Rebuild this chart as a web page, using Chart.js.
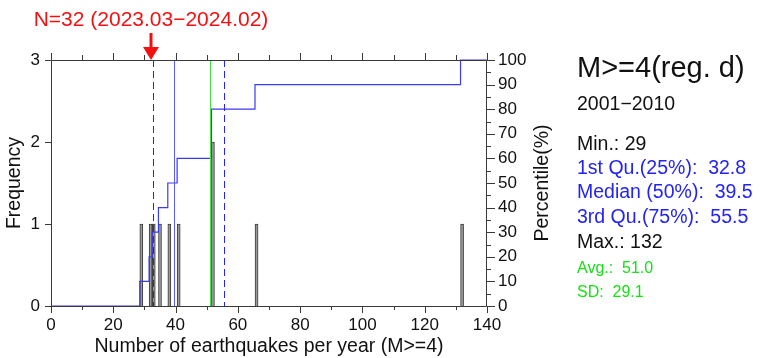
<!DOCTYPE html>
<html>
<head>
<meta charset="utf-8">
<script src="https://cdn.jsdelivr.net/npm/chart.js@4.4.1/dist/chart.umd.min.js"></script>
<style>
  html, body { margin: 0; padding: 0; background: #ffffff; }
  canvas { display: block; }
</style>
</head>
<body>
<canvas id="hist" width="764" height="358"></canvas>
<script>
// Annual counts of M>=4 earthquakes, region d, 2001-2010
const annualCounts = [29, 32, 33, 35, 38, 41, 52, 52, 66, 132];
const periodLabel = '2001\u22122010';
const panelTitle = 'M>=4(reg. d)';

// Current-period count, marked with the red arrow
const currentCount = 32;
const currentLabel = 'N=32 (2023.03\u22122024.02)';

// Summary statistics shown in the side panel and as reference lines
const statMin = 29;
const statQ1 = 32.8;
const statMedian = 39.5;
const statQ3 = 55.5;
const statMax = 132;
const statAvg = 51.0;
const statSD = 29.1;

// Axis tick settings
const xTickLabels = [0, 20, 40, 60, 80, 100, 120, 140];
const freqTicks = [0, 1, 2, 3];
const pctTicks = [0, 10, 20, 30, 40, 50, 60, 70, 80, 90, 100];

// Frequency per integer value
const freqMap = {};
annualCounts.forEach(v => { freqMap[v] = (freqMap[v] || 0) + 1; });
const histPoints = Object.keys(freqMap).map(Number).sort((a, b) => a - b)
  .map(v => ({ x: v, y: freqMap[v] }));

// Empirical cumulative percentage, stepping at the left edge of each bar
const cdfPoints = [{ x: 0, y: 0 }];
let cum = 0;
histPoints.forEach(p => {
  cum += p.y;
  cdfPoints.push({ x: p.x - 0.5, y: cum / annualCounts.length * 100 });
});
cdfPoints.push({ x: 140, y: 100 });

const FONT = "'Liberation Sans', Arial, Helvetica, sans-serif";
const BLUE = '#2323f5';
const GREEN = '#16e016';
const RED = '#f41010';
const AXIS = '#3a3a3a';

const decorations = {
  id: 'decorations',
  afterDatasetsDraw(chart) {
    const ctx = chart.ctx;
    const xs = chart.scales.x, ys = chart.scales.y, y2 = chart.scales.y2;
    const area = chart.chartArea;
    const top = area.top, bottom = area.bottom, left = area.left, right = area.right;

    ctx.save();
    // reference lines
    const vline = (val, color, dash, width) => {
      const px = Math.round(xs.getPixelForValue(val)) + 0.5;
      ctx.beginPath();
      ctx.strokeStyle = color;
      ctx.lineWidth = width;
      ctx.setLineDash(dash);
      ctx.moveTo(px, top);
      ctx.lineTo(px, bottom);
      ctx.stroke();
      ctx.setLineDash([]);
    };
    vline(statQ1, BLUE, [7, 4], 1);
    vline(statQ3, BLUE, [7, 4], 1);
    vline(statMedian, '#5b5bff', [], 1);
    vline(statAvg, '#3ee63e', [], 1);

    // frame
    ctx.strokeStyle = AXIS;
    ctx.lineWidth = 1;
    ctx.beginPath();
    ctx.rect(left + 0.5, top + 0.5, right - left - 1, bottom - top);
    ctx.stroke();

    // x ticks: bottom (down) and top (up)
    ctx.beginPath();
    for (let v = 0; v <= 140; v += 10) {
      const px = Math.round(xs.getPixelForValue(v)) + 0.5;
      const major = v % 20 === 0;
      ctx.moveTo(px, bottom);
      ctx.lineTo(px, bottom + (major ? 7 : 4));
      ctx.moveTo(px, top + 0.5);
      ctx.lineTo(px, top - (major ? 7 : 5));
    }
    // left ticks
    freqTicks.forEach(v => {
      const py = Math.round(ys.getPixelForValue(v)) + 0.5;
      ctx.moveTo(left, py);
      ctx.lineTo(left - 6, py);
    });
    // right ticks
    for (let v = 0; v <= 100; v += 5) {
      const py = Math.round(y2.getPixelForValue(v)) + 0.5;
      ctx.moveTo(right, py);
      ctx.lineTo(right + (v % 10 === 0 ? 8 : 4), py);
    }
    ctx.stroke();

    // axis titles
    ctx.fillStyle = '#111';
    ctx.font = '19.5px ' + FONT;
    ctx.textAlign = 'center';
    ctx.textBaseline = 'alphabetic';
    ctx.fillText('Number of earthquakes per year (M>=4)', (left + right) / 2, 352);

    const midY = (top + bottom) / 2;
    ctx.save();
    ctx.translate(20, midY);
    ctx.rotate(-Math.PI / 2);
    ctx.fillText('Frequency', 0, 0);
    ctx.restore();

    ctx.save();
    ctx.translate(548, midY);
    ctx.rotate(-Math.PI / 2);
    ctx.fillText('Percentile(%)', 0, 0);
    ctx.restore();

    // current-period marker
    const ax = Math.round(xs.getPixelForValue(currentCount));
    ctx.fillStyle = RED;
    ctx.fillRect(ax - 1.5, 33, 3, 16);
    ctx.beginPath();
    ctx.moveTo(ax - 8, 47);
    ctx.lineTo(ax + 8, 47);
    ctx.lineTo(ax, 60);
    ctx.closePath();
    ctx.fill();
    ctx.font = '21px ' + FONT;
    ctx.textAlign = 'center';
    ctx.fillText(currentLabel, ax, 26);

    // side panel
    const px0 = 577;
    ctx.textAlign = 'left';
    ctx.fillStyle = '#111';
    ctx.font = '29px ' + FONT;
    ctx.fillText(panelTitle, px0, 77);
    ctx.font = '19.5px ' + FONT;
    ctx.fillText(periodLabel, px0, 110);
    ctx.fillText('Min.: ' + statMin, px0, 150);
    ctx.fillStyle = BLUE;
    ctx.fillText('1st Qu.(25%):  ' + statQ1.toFixed(1), px0, 174);
    ctx.fillText('Median (50%):  ' + statMedian.toFixed(1), px0, 198);
    ctx.fillText('3rd Qu.(75%):  ' + statQ3.toFixed(1), px0, 223);
    ctx.fillStyle = '#111';
    ctx.fillText('Max.: ' + statMax, px0, 248);
    ctx.fillStyle = GREEN;
    ctx.font = '16px ' + FONT;
    ctx.fillText('Avg.:  ' + statAvg.toFixed(1), px0, 273);
    ctx.fillText('SD:  ' + statSD.toFixed(1), px0, 297);
    ctx.restore();
  }
};

new Chart(document.getElementById('hist'), {
  data: {
    datasets: [
      {
        type: 'line',
        data: cdfPoints,
        yAxisID: 'y2',
        stepped: 'before',
        borderColor: '#3a3af2',
        borderWidth: 1.2,
        pointRadius: 0,
        fill: false,
        order: 0,
        clip: false
      },
      {
        type: 'bar',
        data: histPoints,
        yAxisID: 'y',
        backgroundColor: '#9a9a9a',
        borderColor: '#3c3c3c',
        borderWidth: 1,
        barThickness: 3,
        order: 1
      }
    ]
  },
  options: {
    responsive: false,
    animation: false,
    events: [],
    layout: { padding: { top: 60, left: 0, right: 0, bottom: 0 } },
    plugins: { legend: { display: false }, tooltip: { enabled: false } },
    scales: {
      x: {
        type: 'linear',
        position: 'bottom',
        min: 0, max: 140,
        offset: false,
        grid: { display: false, drawTicks: false, offset: false },
        border: { display: false },
        afterBuildTicks: s => { s.ticks = xTickLabels.map(v => ({ value: v })); },
        ticks: { padding: 9, maxRotation: 0, autoSkip: false, color: '#111',
                 font: { family: FONT, size: 17 } },
        afterFit: s => { s.height = 52; }
      },
      y: {
        type: 'linear',
        position: 'left',
        min: 0, max: 3,
        grid: { display: false, drawTicks: false },
        border: { display: false },
        afterBuildTicks: s => { s.ticks = freqTicks.map(v => ({ value: v })); },
        ticks: { padding: 11, color: '#111', font: { family: FONT, size: 17 } },
        afterFit: s => { s.width = 51; }
      },
      y2: {
        type: 'linear',
        position: 'right',
        min: 0, max: 100,
        grid: { display: false, drawTicks: false },
        border: { display: false },
        afterBuildTicks: s => { s.ticks = pctTicks.map(v => ({ value: v })); },
        ticks: { padding: 11, color: '#111', font: { family: FONT, size: 17 } },
        afterFit: s => { s.width = 277; }
      }
    }
  },
  plugins: [decorations]
});
</script>
</body>
</html>
